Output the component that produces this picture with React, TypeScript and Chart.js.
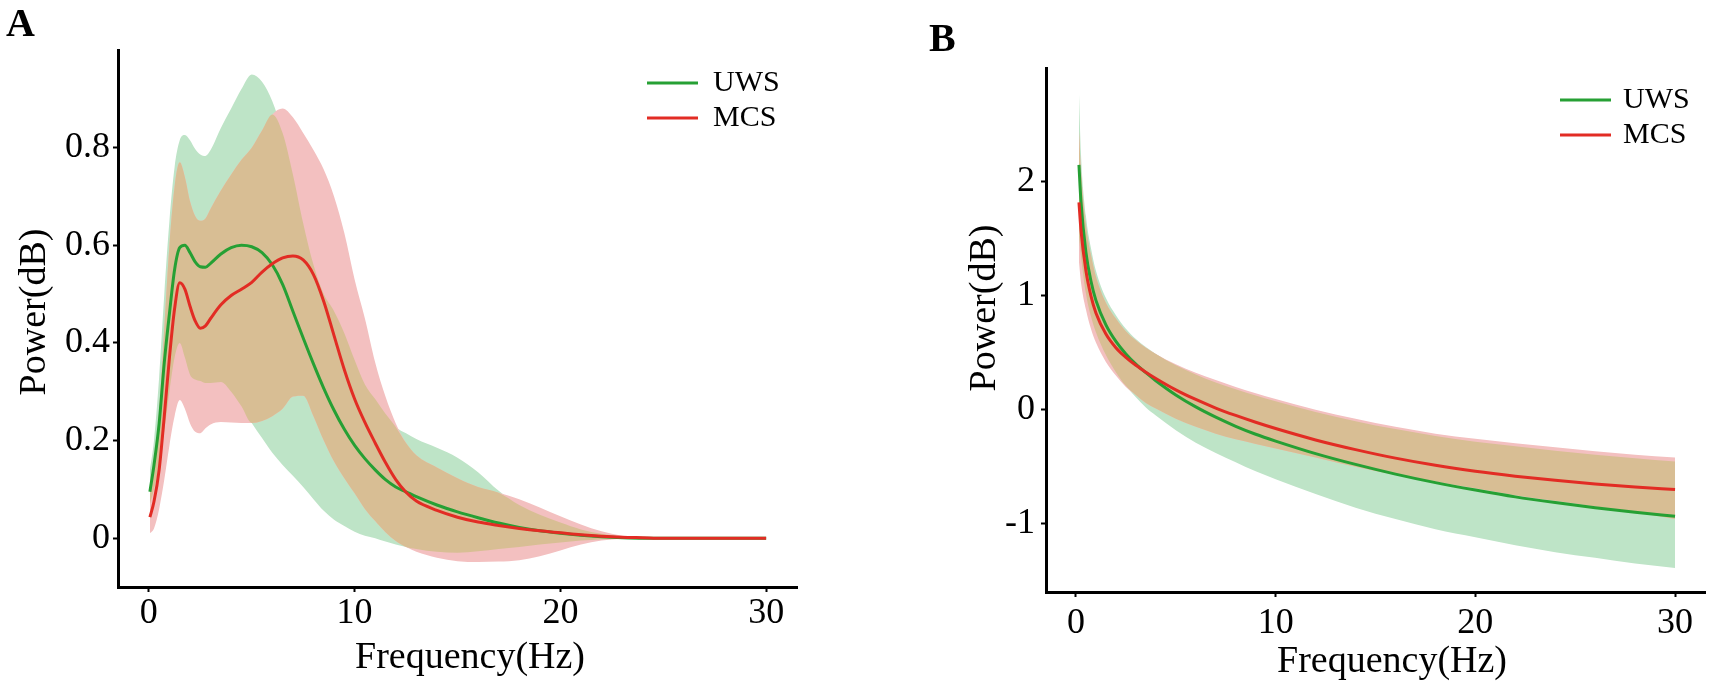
import { useEffect, useRef } from "react";
import { Chart, registerables } from "chart.js";

Chart.register(...registerables);

// ---- data: panel A (power spectrum, mean and spread per group) ----
const freqA = [0.05, 0.25, 0.5, 0.75, 1, 1.25, 1.5, 1.75, 2, 2.25, 2.5, 2.75, 3, 3.5, 4, 4.5, 5, 5.5, 6, 6.5, 7, 7.5, 8, 8.5, 9, 9.5, 10, 10.5, 11, 11.5, 12, 12.5, 13, 14, 15, 16, 17, 18, 19, 20, 21, 22, 23, 24, 25, 26, 27, 28, 29, 30];

const uwsMeanA = [0.095, 0.15, 0.235, 0.36, 0.46, 0.55, 0.595, 0.6, 0.585, 0.566, 0.556, 0.555, 0.563, 0.582, 0.595, 0.6, 0.597, 0.585, 0.56, 0.52, 0.465, 0.41, 0.357, 0.307, 0.262, 0.223, 0.19, 0.163, 0.14, 0.12, 0.105, 0.095, 0.085, 0.068, 0.054, 0.042, 0.031, 0.022, 0.015, 0.01, 0.006, 0.003, 0.001, 0, 0, 0, 0, 0, 0, 0];
const uwsUpperA = [0.14, 0.2, 0.33, 0.5, 0.65, 0.76, 0.815, 0.826, 0.815, 0.797, 0.786, 0.783, 0.795, 0.84, 0.88, 0.92, 0.95, 0.935, 0.895, 0.83, 0.745, 0.645, 0.56, 0.5, 0.465, 0.42, 0.365, 0.315, 0.285, 0.255, 0.228, 0.215, 0.203, 0.185, 0.165, 0.135, 0.097, 0.068, 0.048, 0.032, 0.018, 0.009, 0.003, 0.001, 0, 0, 0, 0, 0, 0];
const uwsLowerA = [0.07, 0.1, 0.15, 0.22, 0.3, 0.37, 0.4, 0.37, 0.335, 0.325, 0.322, 0.318, 0.318, 0.32, 0.3, 0.27, 0.236, 0.205, 0.175, 0.15, 0.128, 0.105, 0.08, 0.056, 0.038, 0.025, 0.013, 0.005, 0, -0.007, -0.013, -0.018, -0.022, -0.028, -0.03, -0.027, -0.022, -0.018, -0.013, -0.009, -0.005, -0.002, -0.001, 0, 0, 0, 0, 0, 0, 0];

const mcsMeanA = [0.043, 0.075, 0.14, 0.25, 0.37, 0.47, 0.523, 0.51, 0.475, 0.445, 0.43, 0.435, 0.45, 0.478, 0.497, 0.51, 0.524, 0.545, 0.562, 0.574, 0.578, 0.57, 0.54, 0.485, 0.415, 0.345, 0.285, 0.237, 0.195, 0.155, 0.12, 0.094, 0.076, 0.057, 0.043, 0.033, 0.026, 0.02, 0.015, 0.011, 0.007, 0.004, 0.002, 0.001, 0, 0, 0, 0, 0, 0];
const mcsUpperA = [0.09, 0.14, 0.26, 0.43, 0.6, 0.72, 0.77, 0.74, 0.69, 0.66, 0.65, 0.655, 0.675, 0.712, 0.745, 0.775, 0.8, 0.835, 0.868, 0.88, 0.862, 0.83, 0.795, 0.755, 0.7, 0.625, 0.53, 0.45, 0.36, 0.29, 0.235, 0.195, 0.17, 0.145, 0.123, 0.105, 0.093, 0.08, 0.063, 0.045, 0.028, 0.014, 0.005, 0.001, 0, 0, 0, 0, 0, 0];
const mcsLowerA = [0.01, 0.02, 0.06, 0.12, 0.19, 0.25, 0.283, 0.265, 0.235, 0.218, 0.215, 0.225, 0.233, 0.238, 0.237, 0.236, 0.236, 0.24, 0.25, 0.265, 0.29, 0.292, 0.25, 0.2, 0.157, 0.123, 0.092, 0.06, 0.035, 0.012, -0.006, -0.018, -0.028, -0.04, -0.047, -0.049, -0.048, -0.045, -0.037, -0.025, -0.013, -0.005, -0.001, 0, 0, 0, 0, 0, 0, 0];

// ---- data: panel B (aperiodic component) ----
const freqB = [0.15, 0.25, 0.5, 0.75, 1, 1.5, 2, 2.5, 3, 3.5, 4, 5, 6, 7, 8, 9, 10, 12, 14, 16, 18, 20, 22, 24, 26, 28, 30];

const uwsMeanB = [2.15, 1.83, 1.38, 1.13, 0.96, 0.745, 0.6, 0.49, 0.4, 0.325, 0.255, 0.13, 0.025, -0.065, -0.145, -0.215, -0.275, -0.385, -0.48, -0.565, -0.64, -0.705, -0.765, -0.815, -0.86, -0.9, -0.935];
const uwsUpperB = [2.78, 2.25, 1.7, 1.42, 1.22, 0.98, 0.83, 0.71, 0.62, 0.55, 0.49, 0.39, 0.31, 0.24, 0.18, 0.125, 0.075, -0.02, -0.1, -0.17, -0.23, -0.28, -0.32, -0.36, -0.395, -0.425, -0.455];
const uwsLowerB = [1.52, 1.35, 1.02, 0.82, 0.68, 0.48, 0.33, 0.21, 0.11, 0.02, -0.05, -0.18, -0.29, -0.38, -0.46, -0.54, -0.61, -0.74, -0.86, -0.96, -1.05, -1.12, -1.19, -1.25, -1.3, -1.35, -1.39];

const mcsMeanB = [1.82, 1.58, 1.22, 1.0, 0.85, 0.665, 0.545, 0.46, 0.39, 0.33, 0.275, 0.175, 0.09, 0.015, -0.05, -0.11, -0.165, -0.265, -0.35, -0.425, -0.488, -0.54, -0.583, -0.62, -0.652, -0.678, -0.7];
const mcsUpperB = [2.45, 2.1, 1.62, 1.36, 1.17, 0.94, 0.8, 0.69, 0.61, 0.545, 0.49, 0.4, 0.325, 0.26, 0.2, 0.145, 0.095, 0, -0.08, -0.15, -0.21, -0.255, -0.295, -0.33, -0.365, -0.395, -0.42];
const mcsLowerB = [1.3, 1.12, 0.88, 0.71, 0.59, 0.42, 0.3, 0.2, 0.13, 0.06, 0.01, -0.08, -0.15, -0.21, -0.26, -0.3, -0.34, -0.42, -0.5, -0.57, -0.63, -0.69, -0.75, -0.8, -0.85, -0.9, -0.96];

// ---- ticks / labels ----
const xTicks = [0, 10, 20, 30];
const yTicksA = [0, 0.2, 0.4, 0.6, 0.8];
const yTicksB = [-1, 0, 1, 2];
const seriesNames = ["UWS", "MCS"];
const xTitle = "Frequency(Hz)";
const yTitle = "Power(dB)";

const GREEN = "rgb(38,160,52)";
const RED = "rgb(226,44,36)";
const GREEN_FILL = "rgb(190,228,199)";
const RED_FILL = "rgb(243,192,192)";
const BOTH_FILL = "rgb(216,190,148)";

const SERIF = '"Liberation Serif", "Times New Roman", serif';
Chart.defaults.font.family = SERIF;
Chart.defaults.color = "#000";

const pts = (xs: number[], ys: number[]) => xs.map((x, i) => ({ x, y: ys[i] }));

// mean lines + three opaque bands (uws only, mcs only, where both overlap)
function buildDatasets(freq: number[], gMean: number[], gUp: number[], gLo: number[], rMean: number[], rUp: number[], rLo: number[]) {
  const bothUp = gUp.map((v, i) => Math.min(v, rUp[i]));
  const bothLo = gLo.map((v, i) => Math.min(Math.max(v, rLo[i]), bothUp[i]));
  const base = { pointRadius: 0, pointHoverRadius: 0, cubicInterpolationMode: "monotone" as const };
  const edge = (data: number[], color: string, order: number, fill: any) => ({
    ...base, data: pts(freq, data), borderWidth: 0, borderColor: "rgba(0,0,0,0)", backgroundColor: color, fill, order,
  });
  return [
    { ...base, label: seriesNames[1], data: pts(freq, rMean), borderColor: RED, borderWidth: 3, fill: false, order: 0 },
    { ...base, label: seriesNames[0], data: pts(freq, gMean), borderColor: GREEN, borderWidth: 3, fill: false, order: 1 },
    edge(bothUp, BOTH_FILL, 2, "+1"), edge(bothLo, BOTH_FILL, 2, false),
    edge(rUp, RED_FILL, 3, "+1"), edge(rLo, RED_FILL, 3, false),
    edge(gUp, GREEN_FILL, 4, "+1"), edge(gLo, GREEN_FILL, 4, false),
  ];
}

// small legend drawn inside the plot
const panelLegend = {
  id: "panelLegend",
  afterDraw(chart: any, _args: any, opts: any) {
    const ctx = chart.ctx;
    ctx.save();
    ctx.font = `${opts.size}px ${SERIF}`;
    ctx.textBaseline = "middle";
    ctx.fillStyle = "#000";
    ctx.lineWidth = 3;
    seriesNames.forEach((name, i) => {
      const ds = chart.data.datasets.find((d: any) => d.label === name);
      const y = opts.y + i * opts.gap;
      ctx.strokeStyle = ds.borderColor;
      ctx.beginPath();
      ctx.moveTo(opts.x, y);
      ctx.lineTo(opts.x + opts.len, y);
      ctx.stroke();
      ctx.fillText(name, opts.x + opts.len + opts.textGap, y);
    });
    ctx.restore();
  },
};

// axis titles placed where the figure has them (not centred on the plot area)
const axisTitles = {
  id: "axisTitles",
  afterDraw(chart: any, _args: any, opts: any) {
    const ctx = chart.ctx;
    ctx.save();
    ctx.font = `${opts.size}px ${SERIF}`;
    ctx.fillStyle = "#000";
    ctx.textAlign = "center";
    ctx.textBaseline = "middle";
    ctx.fillText(xTitle, opts.x[0], opts.x[1]);
    ctx.translate(opts.y[0], opts.y[1]);
    ctx.rotate(-Math.PI / 2);
    ctx.fillText(yTitle, 0, 0);
    ctx.restore();
  },
};

function makeConfig(p: any): any {
  const grid = { display: true, drawOnChartArea: false, drawTicks: true, tickLength: 5, tickWidth: 2, tickColor: "#000" };
  const border = { display: true, color: "#000", width: 3 };
  return {
    type: "line",
    data: { datasets: p.datasets },
    plugins: [panelLegend, axisTitles],
    options: {
      responsive: false,
      animation: false,
      events: [],
      layout: { padding: p.padding },
      plugins: {
        legend: { display: false },
        tooltip: { enabled: false },
        panelLegend: p.legend,
        axisTitles: p.titles,
      },
      scales: {
        x: {
          type: "linear", min: -1.5, max: 31.5,
          afterBuildTicks: (s: any) => { s.ticks = xTicks.map((v) => ({ value: v })); },
          afterFit: (s: any) => { s.height = p.xHeight; },
          ticks: { font: { size: 36, lineHeight: 1.2 }, padding: p.xTickPad, color: "#000", maxRotation: 0, callback: (v: any) => String(v) },
          grid, border,
          title: { display: false },
        },
        y: {
          type: "linear", min: p.yMin, max: p.yMax,
          afterBuildTicks: (s: any) => { s.ticks = p.yTicks.map((v: number) => ({ value: v })); },
          afterFit: (s: any) => { s.width = p.yWidth; },
          ticks: { font: { size: 36, lineHeight: 1.2 }, padding: p.yTickPad, color: "#000", callback: (v: any) => String(v) },
          grid, border,
          title: { display: false },
        },
      },
    },
  };
}

export default function App() {
  const refA = useRef<HTMLCanvasElement | null>(null);
  const refB = useRef<HTMLCanvasElement | null>(null);

  useEffect(() => {
    const charts: Chart[] = [];
    if (refA.current) {
      charts.push(new Chart(refA.current, makeConfig({
        datasets: buildDatasets(freqA, uwsMeanA, uwsUpperA, uwsLowerA, mcsMeanA, mcsUpperA, mcsLowerA),
        yMin: -0.1, yMax: 1.0, yTicks: yTicksA,
        padding: { left: 0, top: 50, right: 43, bottom: 0 },
        xHeight: 102, yWidth: 118, xTickPad: 0, yTickPad: 3,
        legend: { x: 647, y: 83, gap: 35, len: 51, textGap: 15, size: 30 },
        titles: { size: 38, x: [470, 658], y: [35, 312] },
      })));
    }
    if (refB.current) {
      charts.push(new Chart(refB.current, makeConfig({
        datasets: buildDatasets(freqB, uwsMeanB, uwsUpperB, uwsLowerB, mcsMeanB, mcsUpperB, mcsLowerB),
        yMin: -1.6, yMax: 3.0, yTicks: yTicksB,
        padding: { left: 0, top: 68, right: 8, bottom: 0 },
        xHeight: 97, yWidth: 166, xTickPad: 5, yTickPad: 6,
        legend: { x: 680, y: 100, gap: 35, len: 51, textGap: 12, size: 30 },
        titles: { size: 38, x: [512, 662], y: [105, 308] },
      })));
    }
    return () => charts.forEach((c) => c.destroy());
  }, []);

  const panelLabel = { position: "absolute" as const, fontFamily: SERIF, fontWeight: 700, fontSize: 40, lineHeight: 1, color: "#000" };

  return (
    <div style={{ position: "fixed", left: 0, top: 0, width: 1713, height: 689, background: "#fff", overflow: "hidden" }}>
      <canvas ref={refA} width={840} height={689} style={{ position: "absolute", left: 0, top: 0, width: 840, height: 689 }} />
      <canvas ref={refB} width={833} height={689} style={{ position: "absolute", left: 880, top: 0, width: 833, height: 689 }} />
      <div style={{ ...panelLabel, left: 6, top: 3 }}>A</div>
      <div style={{ ...panelLabel, left: 929, top: 18 }}>B</div>
    </div>
  );
}
